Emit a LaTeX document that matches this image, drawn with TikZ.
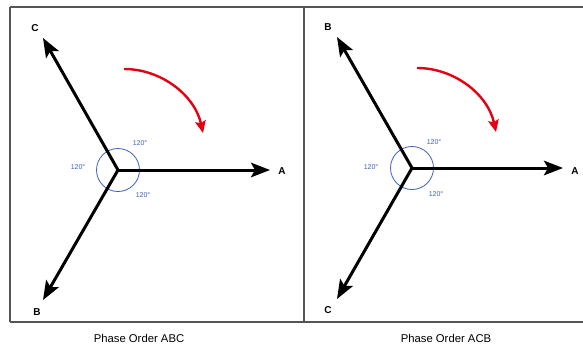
\documentclass[tikz,border=0pt]{standalone}
\usepackage{fontspec}
\setmainfont{Liberation Sans}
\usetikzlibrary{arrows.meta}
\definecolor{frame}{RGB}{85,85,85}
\definecolor{angblue}{RGB}{60,95,190}
\definecolor{rotred}{RGB}{226,0,18}
\tikzset{
  phasor/.style={line width=3pt,-{Stealth[length=19pt,width=14.5pt,inset=4pt]}},
  rotarrow/.style={line width=2.4pt,rotred,-{Stealth[length=12pt,width=10.5pt,inset=2pt]}},
  phaselabel/.style={font=\bfseries\fontsize{10}{11}\selectfont,inner sep=0pt},
  anglabel/.style={font=\fontsize{7}{8}\selectfont,text=angblue,inner sep=0pt},
  caption/.style={font=\fontsize{11.3}{13}\selectfont,inner sep=0pt},
  anglecircle/.style={draw=angblue,line width=0.8pt},
  framel/.style={draw=frame,line width=1.3pt}
}
\begin{document}
\begin{tikzpicture}[x=1pt,y=-1pt]
\useasboundingbox (0,0) rectangle (583,343);
% frames
\coordinate (tl) at (10,7);
\coordinate (tr) at (583,7);
\coordinate (bl) at (10,322);
\coordinate (br) at (583,322);
\coordinate (dt) at (304,7);
\coordinate (db) at (304,322);
\draw[framel] (tl) -- (tr);
\draw[framel] (bl) -- (br);
\draw[framel] (tl) -- (bl);
\draw[framel] (dt) -- (db);

% ---------- left: ABC ----------
\coordinate (O1) at (118,170);
\coordinate (A1) at (270,170);
\coordinate (C1) at (43,38);
\coordinate (B1) at (43,300);
\draw[anglecircle] (O1) circle[radius=21.5];
\draw[phasor] (O1) -- (A1);
\draw[phasor] (O1) -- (C1);
\draw[phasor] (O1) -- (B1);
\node[phaselabel] (lA1) at (282,171) {A};
\node[phaselabel] (lC1) at (35,28) {C};
\node[phaselabel] (lB1) at (37,312) {B};
\node[anglabel] (g1a) at (78,167) {120°};
\node[anglabel] (g1b) at (140,143) {120°};
\node[anglabel] (g1c) at (143,195) {120°};
\coordinate (r1s) at (124,69);
\coordinate (r1e) at (203,133);
\draw[rotarrow] (r1s) .. controls (162,69) and (195,96) .. (r1e);
\node[caption] (cap1) at (139,338) {Phase Order ABC};

% ---------- right: ACB ----------
\coordinate (O2) at (412,168);
\coordinate (A2) at (563,168);
\coordinate (B2) at (337,37);
\coordinate (C2) at (337,299);
\draw[anglecircle] (O2) circle[radius=21.5];
\draw[phasor] (O2) -- (A2);
\draw[phasor] (O2) -- (B2);
\draw[phasor] (O2) -- (C2);
\node[phaselabel] (lA2) at (575,171) {A};
\node[phaselabel] (lB2) at (328,27) {B};
\node[phaselabel] (lC2) at (328,310) {C};
\node[anglabel] (g2a) at (371,167) {120°};
\node[anglabel] (g2b) at (434,142) {120°};
\node[anglabel] (g2c) at (436,194) {120°};
\coordinate (r2s) at (417,68);
\coordinate (r2e) at (496,132);
\draw[rotarrow] (r2s) .. controls (455,68) and (488,95) .. (r2e);
\node[caption] (cap2) at (446,338) {Phase Order ACB};
\end{tikzpicture}
\end{document}
